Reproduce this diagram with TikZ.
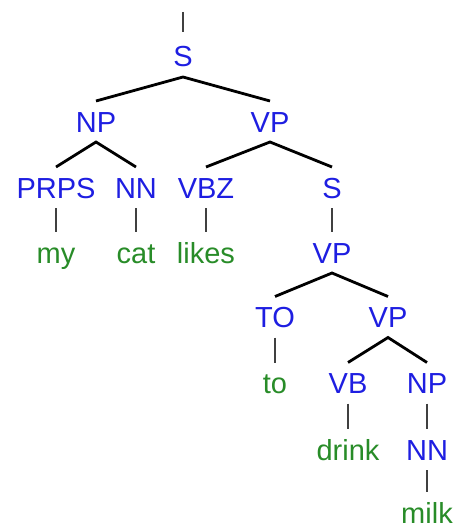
\documentclass[tikz,border=0pt]{standalone}
\usepackage{fontspec}
\setmainfont{Liberation Sans}
\definecolor{tagblue}{RGB}{30,30,225}
\definecolor{wordgreen}{RGB}{40,140,40}
\tikzset{
  tag/.style={text=tagblue, font=\fontsize{21.75}{24}\selectfont, text height=15.75pt, text depth=0pt, inner xsep=0pt, inner ysep=7.5pt, outer sep=0pt},
  word/.style={tag, text=wordgreen},
  branch/.style={line width=2.1pt},
  stem/.style={line width=1.6pt, black!75}
}
\begin{document}
\begin{tikzpicture}[x=0.75pt,y=0.75pt,yscale=-1,xscale=1]
\useasboundingbox (0,0) rectangle (458,528);

% Text Node
\draw (183,56.5) node [tag] (s) {S};
% Text Node
\draw (96,121.5) node [tag] (np) {NP};
% Text Node
\draw (270,121.5) node [tag] (vp) {VP};
% Text Node
\draw (56,187.5) node [tag] (prps) {PRPS};
% Text Node
\draw (136,187.5) node [tag] (nn) {NN};
% Text Node
\draw (206,187.5) node [tag] (vbz) {VBZ};
% Text Node
\draw (332,187.5) node [tag] (sb) {S};
% Text Node
\draw (56,252.5) node [word] (my) {my};
% Text Node
\draw (136,252.5) node [word] (cat) {cat};
% Text Node
\draw (206,252.5) node [word] (likes) {likes};
% Text Node
\draw (332,252.5) node [tag] (vpb) {VP};
% Text Node
\draw (275,317) node [tag] (to) {TO};
% Text Node
\draw (388,317) node [tag] (vpc) {VP};
% Text Node
\draw (275,383) node [word] (tow) {to};
% Text Node
\draw (348,383) node [tag] (vb) {VB};
% Text Node
\draw (427,383) node [tag] (npb) {NP};
% Text Node
\draw (348,449.5) node [word] (drink) {drink};
% Text Node
\draw (427,449.5) node [tag] (nnb) {NN};
% Text Node
\draw (427,512.5) node [word] (milk) {milk};

%Straight Lines
\coordinate (top) at (183,12);
\draw [stem, shorten >=3pt] (top) -- (s.north) ;
%Straight Lines
\draw [branch] (np.north) -- (s.south) -- (vp.north) ;
%Straight Lines
\draw [branch] (prps.north) -- (np.south) -- (nn.north) ;
%Straight Lines
\draw [branch] (vbz.north) -- (vp.south) -- (sb.north) ;
%Straight Lines
\draw [stem] (prps) -- (my) ;
\draw [stem] (nn) -- (cat) ;
\draw [stem] (vbz) -- (likes) ;
\draw [stem] (sb) -- (vpb) ;
%Straight Lines
\draw [branch] (to.north) -- (vpb.south) -- (vpc.north) ;
\draw [stem] (to) -- (tow) ;
%Straight Lines
\draw [branch] (vb.north) -- (vpc.south) -- (npb.north) ;
\draw [stem] (vb) -- (drink) ;
\draw [stem] (npb) -- (nnb) ;
\draw [stem] (nnb) -- (milk) ;

\end{tikzpicture}
\end{document}
